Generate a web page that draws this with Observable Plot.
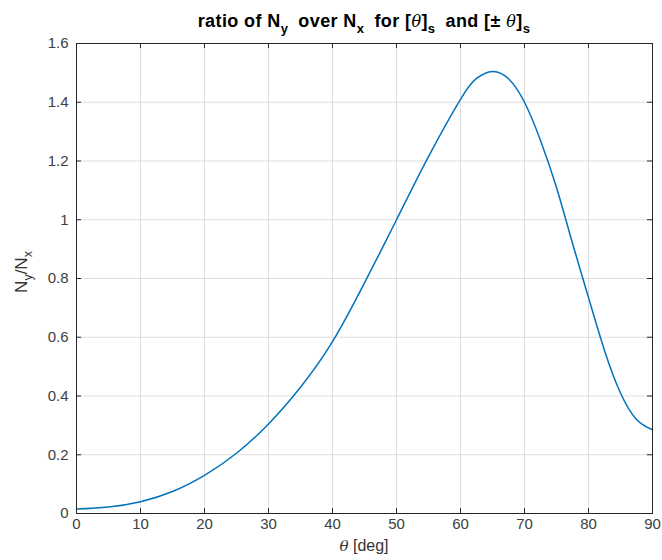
<!DOCTYPE html>
<html>
<head>
<meta charset="utf-8">
<script src="https://cdn.jsdelivr.net/npm/d3@7"></script>
<script src="https://cdn.jsdelivr.net/npm/@observablehq/plot@0.6"></script>
<style>
  html, body { margin: 0; padding: 0; background: #fff; }
  #chart { width: 662px; height: 560px; }
</style>
</head>
<body>
<div id="chart"></div>
<script>
// Data
const theta = [0, 5, 10, 15, 20, 25, 30, 35, 40, 45, 50, 55, 60, 62.5, 65, 67.5, 70, 72.5, 75, 77.5, 80, 82.5, 85, 87.5, 90];
const ratio = [0.015, 0.022, 0.040, 0.075, 0.13, 0.205, 0.305, 0.43, 0.585, 0.785, 1.0, 1.215, 1.41, 1.481, 1.505, 1.48, 1.40, 1.27, 1.11, 0.92, 0.735, 0.555, 0.41, 0.32, 0.285];
const xTicks = [0, 10, 20, 30, 40, 50, 60, 70, 80, 90];
const yTicks = [0, 0.2, 0.4, 0.6, 0.8, 1, 1.2, 1.4, 1.6];

const data = theta.map((t, i) => ({theta: t, ratio: ratio[i]}));

const W = 662, H = 560, ML = 76, MR = 10, MT = 43, MB = 47;
const innerW = W - ML - MR, innerH = H - MT - MB;
const tickLen = 5;
const axisColor = "#262626";
const font = "'Liberation Sans', Arial, sans-serif";

const chart = Plot.plot({
  width: W, height: H,
  marginLeft: ML, marginRight: MR, marginTop: MT, marginBottom: MB,
  style: {fontFamily: font, fontSize: "15px", color: "#404040", background: "#fff"},
  x: {domain: [0, 90]},
  y: {domain: [0, 1.6]},
  marks: [
    Plot.gridX(xTicks, {stroke: "#dedede", strokeOpacity: 1}),
    Plot.gridY(yTicks, {stroke: "#dedede", strokeOpacity: 1}),
    Plot.line(data, {x: "theta", y: "ratio", stroke: "#0072BD", strokeWidth: 1.5, curve: "natural"}),
    Plot.tickX(xTicks, {x: d => d, insetTop: innerH - tickLen, stroke: axisColor}),
    Plot.tickX(xTicks, {x: d => d, insetBottom: innerH - tickLen, stroke: axisColor}),
    Plot.tickY(yTicks, {y: d => d, insetRight: innerW - tickLen, stroke: axisColor}),
    Plot.tickY(yTicks, {y: d => d, insetLeft: innerW - tickLen, stroke: axisColor}),
    Plot.axisX({ticks: xTicks, tickSize: 0, tickPadding: 5, label: null, tickFormat: d => String(d)}),
    Plot.axisY({ticks: yTicks, tickSize: 0, tickPadding: 8, label: null, tickFormat: d => String(d)}),
    Plot.frame({stroke: axisColor, strokeWidth: 1})
  ]
});

document.getElementById("chart").appendChild(chart);

const svg = d3.select(chart);
const cx = ML + innerW / 2;
const cy = MT + innerH / 2;

// Title with subscripts
const title = svg.append("text")
  .attr("x", cx).attr("y", 27)
  .attr("text-anchor", "middle")
  .attr("font-family", font)
  .attr("font-size", 18).attr("font-weight", "bold").attr("fill", "#000")
  .attr("letter-spacing", 0.4);
const tp = [
  {t: "ratio of N"}, {t: "y", sub: true}, {t: "over N", back: true}, {t: "x", sub: true},
  {t: "for [", back: true}, {t: "θ", it: true}, {t: "]"}, {t: "s", sub: true},
  {t: "and [± ", back: true}, {t: "θ", it: true}, {t: "]"}, {t: "s", sub: true}
];
const shift = 6;
tp.forEach(p => {
  const t = title.append("tspan").text(p.t);
  if (p.sub) t.attr("dy", shift).attr("font-size", 13);
  if (p.back) t.attr("dy", -shift).attr("dx", 10);
  if (p.it) t.attr("font-style", "italic").attr("font-weight", "normal").attr("font-family", "'DejaVu Serif', serif").attr("font-size", 16);
});

// X label
const xl = svg.append("text")
  .attr("x", cx).attr("y", 551)
  .attr("text-anchor", "middle")
  .attr("font-family", font)
  .attr("font-size", 16).attr("fill", "#333");
xl.append("tspan").text("θ").attr("font-style", "italic").attr("font-family", "'DejaVu Serif', serif").attr("font-size", 15);
xl.append("tspan").text(" [deg]");

// Y label (rotated) with subscripts
const yl = svg.append("text")
  .attr("transform", `translate(27,${cy - 6}) rotate(-90)`)
  .attr("text-anchor", "middle")
  .attr("font-family", font)
  .attr("font-size", 17).attr("fill", "#333");
yl.append("tspan").text("N");
yl.append("tspan").text("y").attr("dy", 5).attr("font-size", 12.5);
yl.append("tspan").text("/N").attr("dy", -5);
yl.append("tspan").text("x").attr("dy", 5).attr("font-size", 12.5);
</script>
</body>
</html>
